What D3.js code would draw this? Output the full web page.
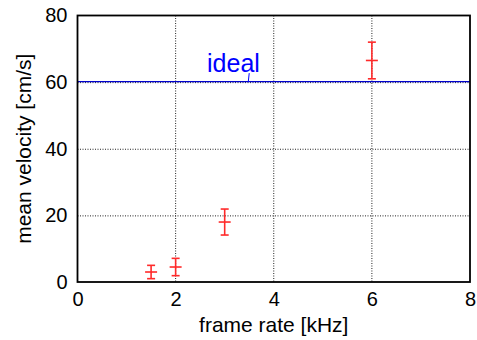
<!DOCTYPE html>
<html>
<head>
<meta charset="utf-8">
<script src="https://cdn.jsdelivr.net/npm/d3@7"></script>
<style>
  body { margin: 0; background: #fff; }
  svg { font-family: "Liberation Sans", Arial, sans-serif; }
</style>
</head>
<body>
<figure id="plot" style="margin:0"></figure>
<script>
// data
const frameRates = [1.5, 2, 3, 6];
const velocities = [3, 4.5, 18, 66.5];
const errors = [2, 2.6, 3.9, 5.5];
const idealVelocity = 60;
const xTicks = [0, 2, 4, 6, 8];
const yTicks = [0, 20, 40, 60, 80];

const width = 477, height = 340;
const margin = { left: 77.5, right: 7, top: 15.5, bottom: 58 };
const plotW = width - margin.left - margin.right;
const plotH = height - margin.top - margin.bottom;

const svg = d3.select("figure#plot")
  .append("svg")
  .attr("width", width)
  .attr("height", height);

const g = svg.append("g")
  .attr("transform", "translate(" + margin.left + "," + margin.top + ")");

const x = d3.scaleLinear().domain([0, 8]).range([0, plotW]);
const y = d3.scaleLinear().domain([0, 80]).range([plotH, 0]);

// dotted grid
g.selectAll(".gx")
  .data(xTicks.slice(1, -1))
  .enter().append("line")
  .attr("x1", d => x(d)).attr("x2", d => x(d))
  .attr("y1", 0).attr("y2", plotH)
  .attr("stroke", "#222").attr("stroke-width", 1)
  .attr("stroke-dasharray", "1,1.5");

g.selectAll(".gy")
  .data(yTicks.slice(1, -1))
  .enter().append("line")
  .attr("x1", 0).attr("x2", plotW)
  .attr("y1", d => y(d) + 0.5).attr("y2", d => y(d) + 0.5)
  .attr("stroke", "#222").attr("stroke-width", 1)
  .attr("stroke-dasharray", "1,1.5");

// ideal line
g.append("line")
  .attr("x1", x(0)).attr("x2", x(8))
  .attr("y1", y(idealVelocity) - 0.5).attr("y2", y(idealVelocity) - 0.5)
  .attr("stroke", "#0000cc").attr("stroke-width", 1.2);

g.append("line")
  .attr("x1", x(3.5)).attr("x2", x(3.48))
  .attr("y1", y(idealVelocity) - 9).attr("y2", y(idealVelocity))
  .attr("stroke", "#0000ff").attr("stroke-width", 1);

g.append("text")
  .attr("x", x(2.64)).attr("y", y(idealVelocity) - 10)
  .attr("text-anchor", "start")
  .attr("fill", "#0000ff")
  .attr("font-size", 25)
  .text("ideal");

// axes
const xAxis = g.append("g")
  .attr("transform", "translate(0," + plotH + ")")
  .call(d3.axisBottom(x).tickValues(xTicks).tickSize(0).tickPadding(10).tickFormat(d3.format("d")));
xAxis.select(".domain").remove();
xAxis.selectAll("text").attr("font-size", 20).attr("fill", "#000")
  .style("font-family", "Liberation Sans, Arial, sans-serif");

const yAxis = g.append("g")
  .call(d3.axisLeft(y).tickValues(yTicks).tickSize(0).tickPadding(10).tickFormat(d3.format("d")));
yAxis.select(".domain").remove();
yAxis.selectAll("text").attr("font-size", 20).attr("fill", "#000")
  .style("font-family", "Liberation Sans, Arial, sans-serif");

// frame
g.append("rect")
  .attr("x", 0).attr("y", 0)
  .attr("width", plotW).attr("height", plotH)
  .attr("fill", "none")
  .attr("stroke", "#000").attr("stroke-width", 1.8);

// error bars
const pts = frameRates.map((f, i) => ({ f: f, v: velocities[i], e: errors[i] }));
const red = "#ff2a2a";

const eb = g.selectAll(".pt")
  .data(pts)
  .enter().append("g");

eb.append("line")
  .attr("x1", d => x(d.f)).attr("x2", d => x(d.f))
  .attr("y1", d => y(d.v + d.e)).attr("y2", d => y(d.v - d.e))
  .attr("stroke", red).attr("stroke-width", 1.6);

eb.append("line")
  .attr("x1", d => x(d.f) - 4).attr("x2", d => x(d.f) + 4)
  .attr("y1", d => y(d.v + d.e)).attr("y2", d => y(d.v + d.e))
  .attr("stroke", red).attr("stroke-width", 1.6);

eb.append("line")
  .attr("x1", d => x(d.f) - 4).attr("x2", d => x(d.f) + 4)
  .attr("y1", d => y(d.v - d.e)).attr("y2", d => y(d.v - d.e))
  .attr("stroke", red).attr("stroke-width", 1.6);

eb.append("line")
  .attr("x1", d => x(d.f) - 6).attr("x2", d => x(d.f) + 6)
  .attr("y1", d => y(d.v)).attr("y2", d => y(d.v))
  .attr("stroke", red).attr("stroke-width", 1.6);

// axis labels
svg.append("text")
  .attr("x", margin.left + plotW / 2).attr("y", 332)
  .attr("text-anchor", "middle")
  .attr("font-size", 21)
  .text("frame rate [kHz]");

svg.append("text")
  .attr("transform", "translate(31," + (margin.top + plotH / 2) + ")rotate(-90)")
  .attr("text-anchor", "middle")
  .attr("font-size", 21)
  .text("mean velocity [cm/s]");
</script>
</body>
</html>
